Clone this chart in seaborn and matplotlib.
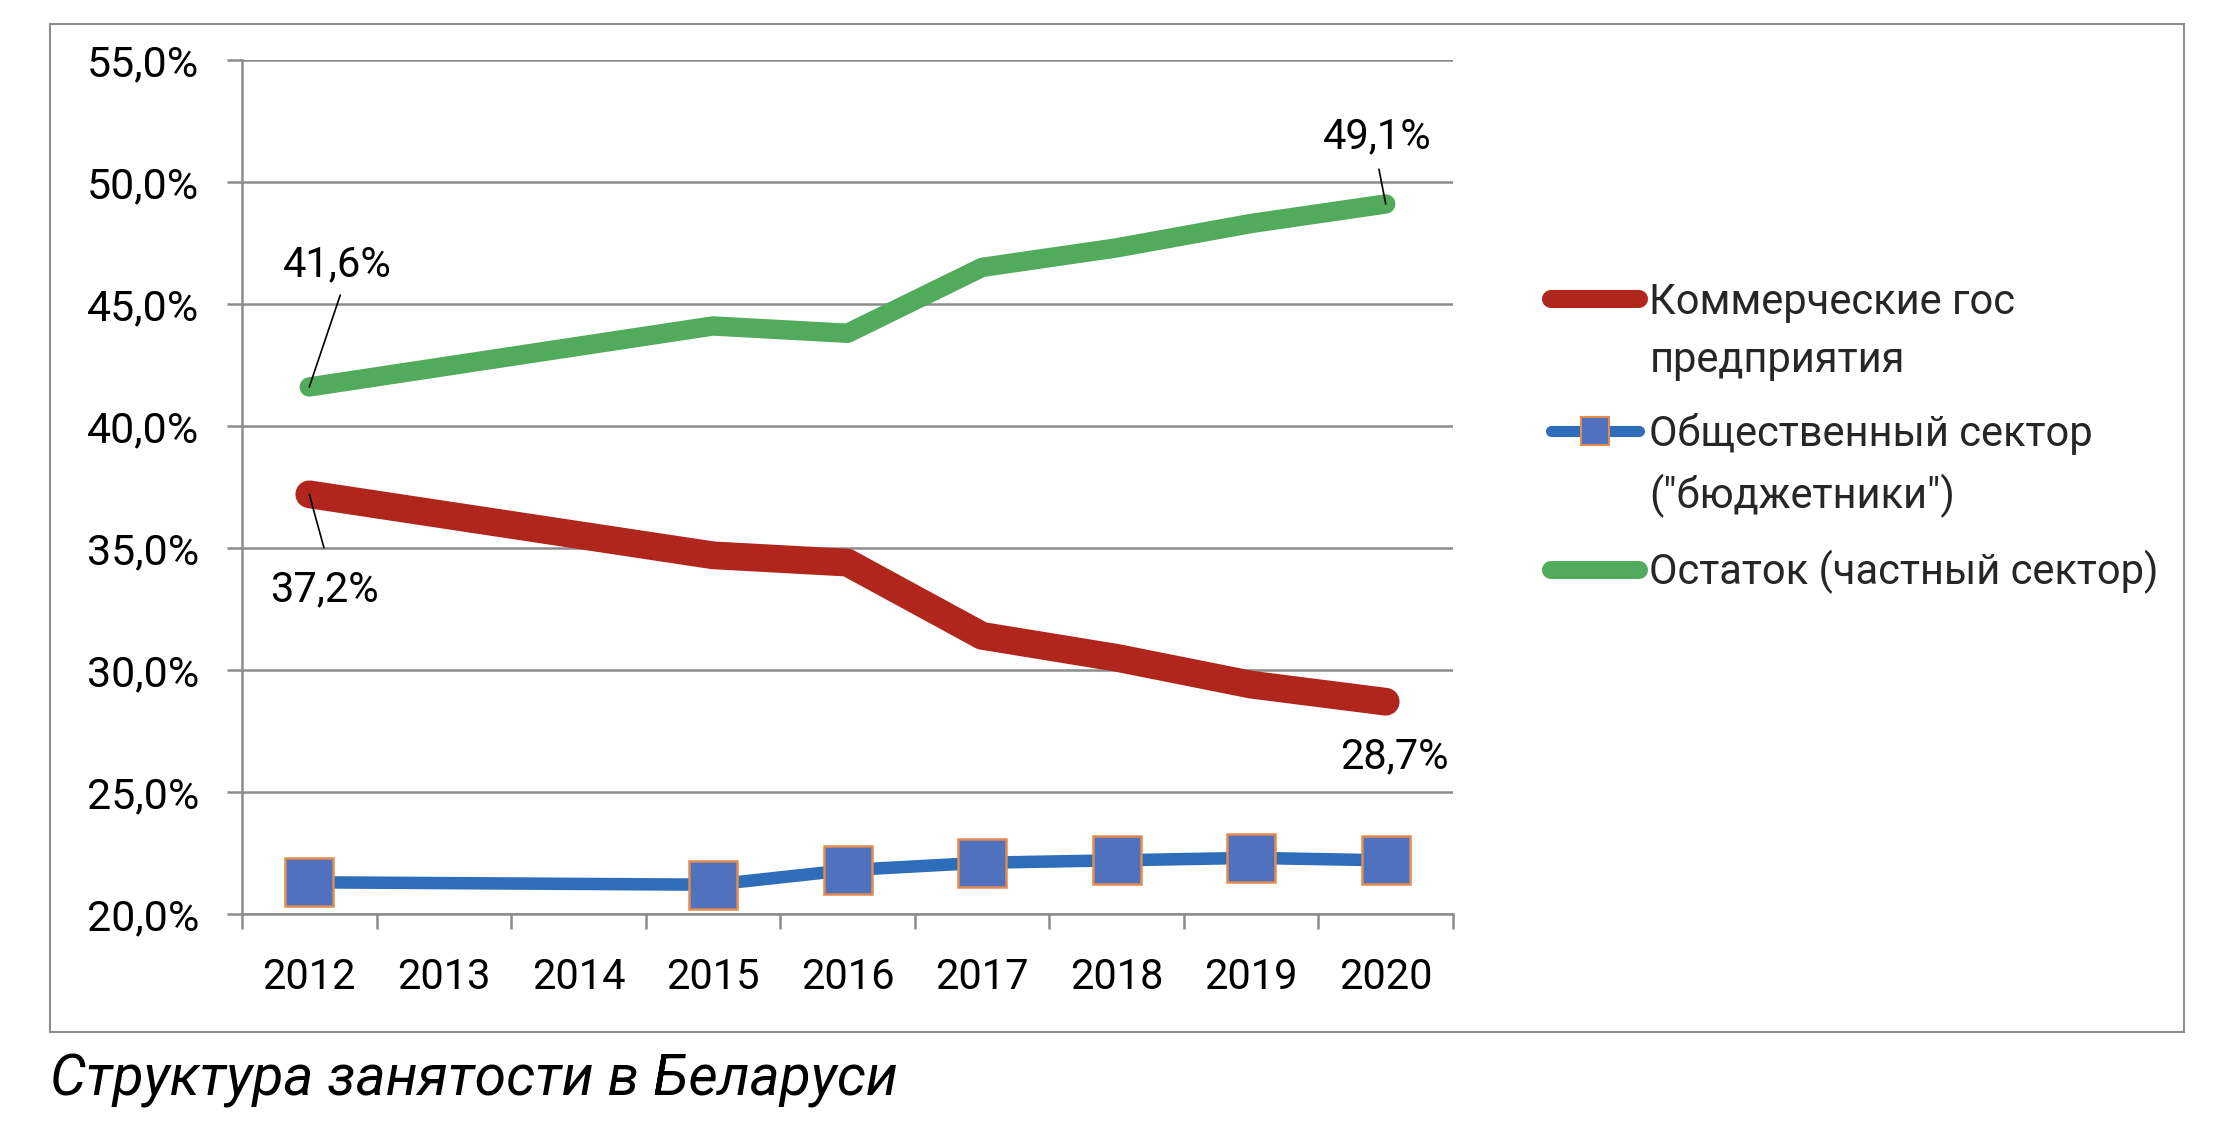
import numpy as np
import pandas as pd
import matplotlib
matplotlib.use("Agg")
import matplotlib.pyplot as plt
from matplotlib.patches import Rectangle
from matplotlib.ticker import FuncFormatter
import seaborn as sns

# ---------------- data ----------------
years = [2012, 2013, 2014, 2015, 2016, 2017, 2018, 2019, 2020]
commercial = [37.2, None, None, 34.7, 34.4, 31.4, 30.5, 29.4, 28.7]
public = [21.3, None, None, 21.2, 21.8, 22.1, 22.2, 22.3, 22.2]
private = [41.6, None, None, 44.1, 43.8, 46.5, 47.3, 48.3, 49.1]
series_names = ["Коммерческие гос\nпредприятия",
                "Общественный сектор\n(\"бюджетники\")",
                "Остаток (частный сектор)"]
y_ticks = [20, 25, 30, 35, 40, 45, 50, 55]
caption = "Структура занятости в Беларуси"

# ---------------- style ----------------
sns.set_style("white")
plt.rcParams['font.family'] = ['Roboto', 'DejaVu Sans']

RED = "#B0261C"
BLUE = "#2E6DBA"
BLUE_FACE = "#4F71BE"
ORANGE = "#E38A4F"
GREEN = "#52AA5C"
GRAY = "#8C8C8C"
FS = 30

W, H, DPI = 2232, 1122, 100
fig = plt.figure(figsize=(W / DPI, H / DPI), dpi=DPI)
fig.patch.set_facecolor("white")


def fx(px):
    return px / W


def fy(py):
    return 1 - py / H


ax = fig.add_axes([fx(242), fy(914), fx(1453) - fx(242), fy(60) - fy(914)])
ax.set_facecolor("white")

df = pd.DataFrame({"year": years, "commercial": commercial,
                   "public": public, "private": private}).astype(float)

common = dict(ax=ax, x="year", legend=False, errorbar=None,
              solid_capstyle="round", solid_joinstyle="round")
sns.lineplot(data=df.dropna(subset=["commercial"]), y="commercial",
             color=RED, linewidth=20, **common)
sns.lineplot(data=df.dropna(subset=["public"]), y="public",
             color=BLUE, linewidth=9, marker="s", markersize=34,
             markerfacecolor=BLUE_FACE, markeredgecolor=ORANGE,
             markeredgewidth=1.8, **common)
sns.lineplot(data=df.dropna(subset=["private"]), y="private",
             color=GREEN, linewidth=14, **common)


def pct(v):
    return f"{v:.1f}%".replace(".", ",")


# data labels
lab_kw = dict(textcoords="offset points", ha="center", va="center",
              fontsize=FS, color="black", zorder=5)
ax.annotate(pct(private[0]), xy=(years[0], private[0]), xytext=(20, 88),
            arrowprops=dict(arrowstyle="-", color="black", lw=1.2,
                            relpos=(0.56, 0.0), shrinkA=5, shrinkB=0),
            **lab_kw)
ax.annotate(pct(commercial[0]), xy=(years[0], commercial[0]), xytext=(11, -69),
            arrowprops=dict(arrowstyle="-", color="black", lw=1.2,
                            relpos=(0.55, 1.0), shrinkA=14, shrinkB=0),
            **lab_kw)
ax.annotate(pct(private[-1]), xy=(years[-1], private[-1]), xytext=(-6.5, 48),
            arrowprops=dict(arrowstyle="-", color="black", lw=1.2,
                            relpos=(0.5, 0.0), shrinkA=6, shrinkB=0),
            **lab_kw)
ax.annotate(pct(commercial[-1]), xy=(years[-1], commercial[-1]),
            xytext=(6.5, -40), **lab_kw)

# axes
ax.set_ylim(y_ticks[0], y_ticks[-1])
ax.set_yticks(y_ticks)
ax.yaxis.set_major_formatter(FuncFormatter(lambda v, p: pct(v)))
ax.set_xlim(years[0] - 0.5, years[-1] + 0.5)
ax.set_xticks(years)
ax.set_xticklabels([str(y) for y in years])
ax.set_xticks(np.arange(years[0] - 0.5, years[-1] + 1.0, 1.0), minor=True)
ax.set_xlabel("")
ax.set_ylabel("")
ax.tick_params(axis="x", which="major", bottom=False, length=0, pad=31,
               labelsize=FS, labelcolor="black")
ax.tick_params(axis="x", which="minor", bottom=True, length=11, width=1.8,
               color=GRAY, direction="out")
ax.tick_params(axis="y", which="major", left=True, length=11, width=1.8,
               color=GRAY, direction="out", pad=20, labelsize=31,
               labelcolor="black")
ax.grid(axis="y", color=GRAY, linewidth=1.8)
ax.grid(axis="x", visible=False)
ax.set_axisbelow(True)
for s in ["top", "right"]:
    ax.spines[s].set_visible(False)
for s in ["left", "bottom"]:
    ax.spines[s].set_color(GRAY)
    ax.spines[s].set_linewidth(1.8)

# legend
lines = ax.get_lines()[:3]
leg = fig.legend(handles=lines, labels=series_names, loc="upper left",
                 bbox_to_anchor=(fx(1551), fy(282)), frameon=False,
                 fontsize=FS, handlelength=2.11, handletextpad=0.25,
                 labelspacing=0.78, borderpad=0, borderaxespad=0)
for t in leg.get_texts():
    t.set_linespacing(1.53)
lh = leg.legend_handles
lh[0].set_linewidth(13)
lh[1].set_linewidth(8)
lh[1].set_markersize(20)
lh[1].set_markeredgewidth(1.5)
lh[2].set_linewidth(13)
for h in lh:
    h.set_solid_capstyle("round")

# outer frame
fig.patches.append(Rectangle((fx(50), fy(1032)), fx(2184) - fx(50),
                             fy(24) - fy(1032), transform=fig.transFigure,
                             fill=False, edgecolor=GRAY, linewidth=1.5))

# caption
fig.text(fx(50), fy(1080), caption, fontsize=41, style="italic",
         ha="left", va="center", color="black")

# move legend handles to the first line of multi-line labels
fig.canvas.draw()
renderer = fig.canvas.get_renderer()
_, lp_h, lp_d = renderer.get_text_width_height_descent(
    "lp", leg.get_texts()[0].get_fontproperties(), ismath=False)
for h, t in zip(lh, leg.get_texts()):
    if "\n" in t.get_text():
        hh = t.get_window_extent(renderer).height
        shift_px = 0.5 * hh - 0.5 * (lp_h - lp_d)
        h.set_ydata(np.asarray(h.get_ydata(), dtype=float) + shift_px * 72 / DPI)

fig.savefig("out.png", dpi=DPI, facecolor="white")
